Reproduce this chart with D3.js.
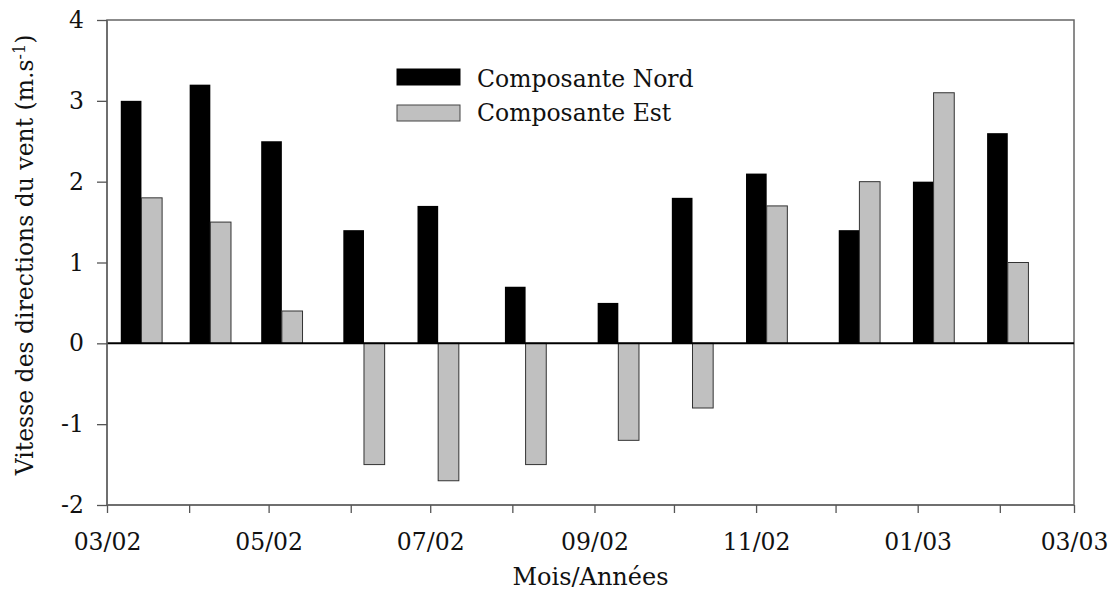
<!DOCTYPE html>
<html lang="fr">
<head>
<meta charset="UTF-8">
<title>Vitesse des directions du vent</title>
<script src="https://d3js.org/d3.v7.min.js"></script>
<style>
  body { margin: 0; background: #fff; }
  text { font-family: "DejaVu Serif", serif; fill: #111; }
</style>
</head>
<body>
<div id="content"></div>
<script>
// measurement dates (one group of bars per date)
const dates = ["2002-03-14", "2002-04-09", "2002-05-06", "2002-06-06", "2002-07-04", "2002-08-06",
               "2002-09-10", "2002-10-08", "2002-11-05", "2002-12-10", "2003-01-07", "2003-02-04"];
const nord = [3.0, 3.2, 2.5, 1.4, 1.7, 0.7, 0.5, 1.8, 2.1, 1.4, 2.0, 2.6];
const est  = [1.8, 1.5, 0.4, -1.5, -1.7, -1.5, -1.2, -0.8, 1.7, 2.0, 3.1, 1.0];
const seriesNames = ["Composante Nord", "Composante Est"];
const xTickLabels = ["03/02", "05/02", "07/02", "09/02", "11/02", "01/03", "03/03"];
const yTicks = [-2, -1, 0, 1, 2, 3, 4];

const width = 1110, height = 595;
const margin = { top: 20, right: 36, bottom: 90, left: 107 };
const parse = d3.utcParse("%Y-%m-%d");

const svg = d3.select("#content").append("svg")
    .attr("width", width)
    .attr("height", height);

const x = d3.scaleUtc()
    .domain([parse("2002-03-01"), parse("2003-03-01")])
    .range([margin.left, width - margin.right]);

const y = d3.scaleLinear()
    .domain([-2, 4])
    .range([height - margin.bottom, margin.top]);

// bar width, in days on the time axis
const barDays = 7.8;
const bw = d => x(new Date(+d + barDays * 864e5)) - x(d);

const data = dates.map((d, i) => ({ date: parse(d), nord: nord[i], est: est[i] }));

// frame (top + right)
svg.append("rect")
    .attr("x", margin.left).attr("y", margin.top)
    .attr("width", x.range()[1] - margin.left)
    .attr("height", y(-2) - margin.top)
    .attr("fill", "none")
    .attr("stroke", "#666")
    .attr("stroke-width", 1.5);

// bars
const g = svg.append("g");
g.selectAll(".nord")
    .data(data)
    .enter().append("rect")
    .attr("class", "nord")
    .attr("x", d => x(d.date) - bw(d.date))
    .attr("width", d => bw(d.date))
    .attr("y", d => y(Math.max(0, d.nord)))
    .attr("height", d => Math.abs(y(d.nord) - y(0)))
    .attr("fill", "#000");

g.selectAll(".est")
    .data(data)
    .enter().append("rect")
    .attr("class", "est")
    .attr("x", d => x(d.date))
    .attr("width", d => bw(d.date))
    .attr("y", d => y(Math.max(0, d.est)))
    .attr("height", d => Math.abs(y(d.est) - y(0)))
    .attr("fill", "#c0c0c0")
    .attr("stroke", "#333")
    .attr("stroke-width", 1);

// zero line
svg.append("line")
    .attr("x1", margin.left).attr("x2", x.range()[1])
    .attr("y1", y(0)).attr("y2", y(0))
    .attr("stroke", "#000")
    .attr("stroke-width", 2);

// axes
const xAxis = svg.append("g")
    .attr("transform", `translate(0,${y(-2)})`)
    .call(d3.axisBottom(x)
        .ticks(d3.utcMonth.every(1))
        .tickSize(8)
        .tickPadding(20)
        .tickFormat((d, i) => i % 2 === 0 ? xTickLabels[i / 2] : ""));

const yAxis = svg.append("g")
    .attr("transform", `translate(${margin.left},0)`)
    .call(d3.axisLeft(y)
        .tickValues(yTicks)
        .tickSize(10)
        .tickPadding(13)
        .tickFormat(d => String(d)));

[xAxis, yAxis].forEach(a => {
    a.select(".domain").attr("stroke", "#666").attr("stroke-width", 1.5);
    a.selectAll(".tick line").attr("stroke", "#555").attr("stroke-width", 1.3);
    a.selectAll(".tick text").style("font-size", "23.5px").attr("fill", "#111")
        .style("font-family", "DejaVu Serif");
});
yAxis.select(".domain").attr("d", `M0,${y(4)}V${y(-2)}`);
xAxis.select(".domain").attr("d", `M${margin.left},0H${x.range()[1]}`);

// axis titles
svg.append("text")
    .attr("x", (margin.left + x.range()[1]) / 2)
    .attr("y", 585)
    .attr("text-anchor", "middle")
    .style("font-size", "24px")
    .text("Mois/Années");

const yt = svg.append("text")
    .attr("transform", "translate(33,255) rotate(-90)")
    .attr("text-anchor", "middle")
    .style("font-size", "23.5px");
yt.append("tspan").text("Vitesse des directions du vent (m.s");
yt.append("tspan").attr("dy", "-0.5em").style("font-size", "16px").text("-1");
yt.append("tspan").attr("dy", "0.35em").text(")");

// legend
const legend = svg.append("g");
const fills = ["#000", "#c0c0c0"];
seriesNames.forEach((name, i) => {
    legend.append("rect")
        .attr("x", 397).attr("y", 69 + i * 36)
        .attr("width", 63).attr("height", 16)
        .attr("fill", fills[i])
        .attr("stroke", i ? "#444" : "#000")
        .attr("stroke-width", 1);
    legend.append("text")
        .attr("x", 477).attr("y", 87 + i * 34)
        .style("font-size", "23.5px")
        .text(name);
});
</script>
</body>
</html>
